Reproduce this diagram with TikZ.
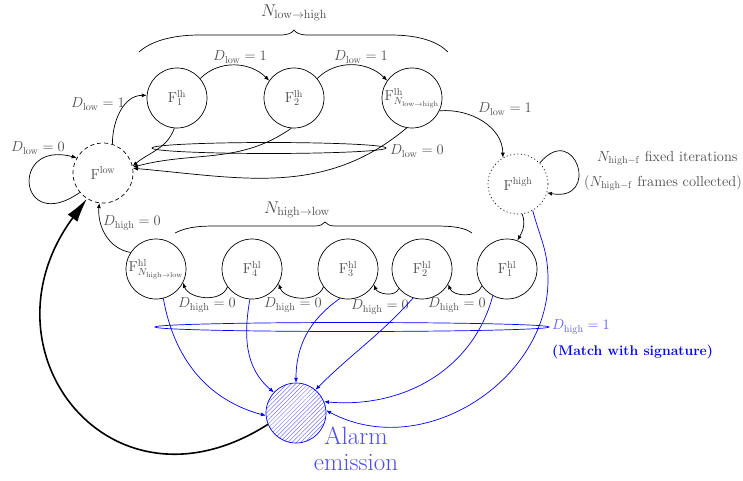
\RequirePackage{fix-cm}
\documentclass[tikz,border=0pt]{standalone}
\usetikzlibrary{arrows.meta,patterns.meta}
\colorlet{labelgray}{black!70}
\colorlet{alarmblue}{blue!70}
\tikzset{
  state/.style={circle, draw, minimum size=60pt, inner sep=0pt, line width=0.7pt,
    text=labelgray, font=\fontsize{14.5}{17}\selectfont},
  edge/.style={-{Latex[length=5pt,width=4pt]}, line width=0.7pt},
  alarmedge/.style={edge, blue},
  lab/.style={text=labelgray, font=\fontsize{14.5}{17}\selectfont, inner sep=0pt},
  bracelab/.style={text=labelgray, font=\fontsize{17}{20}\selectfont, inner sep=0pt},
  notelab/.style={text=labelgray, font=\fontsize{14.5}{17}\selectfont, inner sep=0pt, anchor=west},
  chain/.style={edge, out=250, in=290},
}
\begin{document}
\begin{tikzpicture}[x=1pt,y=1pt]
\useasboundingbox (0,0) rectangle (743,480);

% states
\node[state, dashed, dash pattern=on 4pt off 3pt] (Flow) at (103,307) {$\mathrm{F}^{\mathrm{low}}$};
\node[state] (F1lh) at (177,382) {$\mathrm{F}^{\mathrm{lh}}_{1}$};
\node[state] (F2lh) at (294,382) {$\mathrm{F}^{\mathrm{lh}}_{2}$};
\node[state] (FNlh) at (412,382) {$\mathrm{F}^{\mathrm{lh}}_{N_{\mathrm{low}\to\mathrm{high}}}$};
\node[state, dash pattern=on 1pt off 2.6pt] (Fhigh) at (518,296) {$\mathrm{F}^{\mathrm{high}}$};
\node[state] (hlN) at (156,211) {$\mathrm{F}^{\mathrm{hl}}_{N_{\mathrm{high}\to\mathrm{low}}}$};
\node[state] (hl4) at (252,211) {$\mathrm{F}^{\mathrm{hl}}_{4}$};
\node[state] (hl3) at (348,211) {$\mathrm{F}^{\mathrm{hl}}_{3}$};
\node[state] (hl2) at (422,211) {$\mathrm{F}^{\mathrm{hl}}_{2}$};
\node[state] (hl1) at (507,211) {$\mathrm{F}^{\mathrm{hl}}_{1}$};
\node[circle, draw=blue, minimum size=60pt, inner sep=0pt, line width=0.7pt,
  pattern={Lines[angle=45,distance=3pt,line width=0.5pt]}, pattern color=blue!55] (alarm) at (296,67) {};
\node[text=alarmblue, font=\fontsize{25}{26}\selectfont, align=center, inner sep=0pt] (alarmtext) at (356,31) {Alarm\\emission};

% braces
\draw[line width=0.7pt] (139,428) .. controls (150,438) and (170,445) .. (200,445) -- (280,445)
  .. controls (288,445) and (292,447) .. (294,450) .. controls (296,447) and (300,445) .. (308,445)
  -- (390,445) .. controls (420,445) and (438,438) .. (448,428);
\node[bracelab] (Nlh) at (294,467) {$N_{\mathrm{low}\to\mathrm{high}}$};
\draw[line width=0.7pt] (175,247) .. controls (185,252) and (195,254) .. (215,254) -- (315,254)
  .. controls (321,254) and (323,256) .. (325,258) .. controls (327,256) and (329,254) .. (335,254)
  -- (435,254) .. controls (455,254) and (465,252) .. (472,247);
\node[bracelab] (Nhl) at (297,270) {$N_{\mathrm{high}\to\mathrm{low}}$};

% low -> high branch
\draw[edge] (Flow.220) .. controls +(215:75) and +(165:70) .. (Flow.150);
\node[lab] at (38,332) {$D_{\mathrm{low}}=0$};
\draw[edge] (Flow.72) to[out=90,in=180] (F1lh.175);
\node[lab] at (98,376) {$D_{\mathrm{low}}=1$};
\draw[edge] (F1lh.40) to[out=45,in=135] (F2lh.145);
\node[lab] at (240,423) {$D_{\mathrm{low}}=1$};
\draw[edge] (F2lh.40) to[out=45,in=135] (FNlh.145);
\node[lab] at (361,423) {$D_{\mathrm{low}}=1$};
\draw[edge] (FNlh.-25) to[out=5,in=90] (Fhigh.120);
\node[lab] at (505,371) {$D_{\mathrm{low}}=1$};

% back to the low state
\draw[edge] (F1lh.265) to[out=250,in=40] (Flow.13);
\draw[edge] (F2lh.265) to[out=215,in=15] (Flow.11);
\draw[edge] (FNlh.260) to[out=220,in=355] (Flow.9);
\draw[line width=0.7pt] (269,332) ellipse (117 and 5.5);
\node[lab, anchor=west] at (390,329) {$D_{\mathrm{low}}=0$};

% high state
\draw[edge] (Fhigh.44) .. controls +(50:55) and +(-10:55) .. (Fhigh.-17);
\node[notelab] at (597,322) {$N_{\mathrm{high-f}}$ fixed iterations};
\node[notelab] at (584,297) {($N_{\mathrm{high-f}}$ frames collected)};
\draw[edge] (Fhigh.278) to[out=-70,in=60] (hl1.70);

% high -> low chain
\draw[chain] (hl1.214) to (hl2.330);
\draw[chain] (hl2.220) to (hl3.329);
\draw[chain] (hl3.216) to (hl4.331);
\draw[chain] (hl4.216) to (hlN.333);
\node[lab] at (457,175) {$D_{\mathrm{high}}=0$};
\node[lab] at (380,173) {$D_{\mathrm{high}}=0$};
\node[lab] at (293,175) {$D_{\mathrm{high}}=0$};
\node[lab] at (207,175) {$D_{\mathrm{high}}=0$};
\draw[edge] (hlN.147) to[out=170,in=265] (Flow.263);
\node[lab] at (132,257) {$D_{\mathrm{high}}=0$};

% detections leading to the alarm
\coordinate (outerbend) at (548,200);
\draw[alarmedge] (hlN.284) to[out=280,in=165] (alarm.185);
\draw[alarmedge] (hl4.266) to[out=260,in=140] (alarm.137);
\draw[alarmedge] (hl3.255) to[out=215,in=90] (alarm.90);
\draw[alarmedge] (hl2.253) to[out=228,in=45] (alarm.50);
\draw[alarmedge] (hl1.242) to[out=255,in=-5] (alarm.22);
\draw[alarmedge] (Fhigh.299) .. controls +(-75:30) and +(90:30) .. (outerbend)
  .. controls +(-90:100) and +(-28:110) .. (alarm.5);
\draw[blue, line width=0.7pt] (352,153) ellipse (197 and 4.5);
\node[text=blue!65, font=\fontsize{14.5}{17}\selectfont, inner sep=0pt, anchor=west] at (552,153) {$D_{\mathrm{high}}=1$};
\node[text=blue, font=\fontsize{14}{17}\selectfont\bfseries, inner sep=0pt, anchor=west] at (552,128) {(Match with signature)};

% reset after the alarm
\draw[-{Latex[length=24pt,width=12pt]}, line width=1.6pt] (alarm.202) .. controls (110,-45) and (-25,130) .. (Flow.238);
\end{tikzpicture}
\end{document}
